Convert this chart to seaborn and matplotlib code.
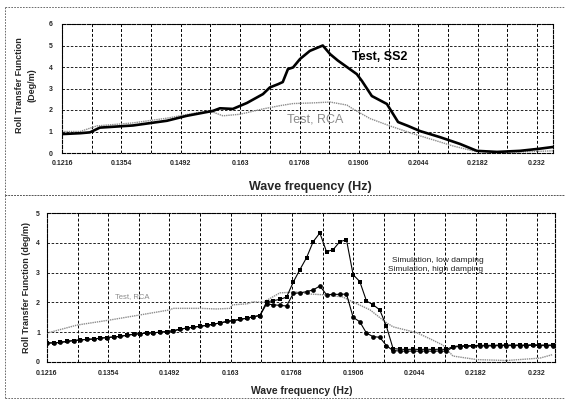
import matplotlib
matplotlib.use("Agg")
import matplotlib.pyplot as plt
from matplotlib.lines import Line2D
import seaborn as sns
import pandas as pd

# ---------------- data ----------------
tick_labels = ["0.1216", "0.1354", "0.1492", "0.163", "0.1768",
               "0.1906", "0.2044", "0.2182", "0.232"]
tick_values = [0.1216, 0.1354, 0.1492, 0.1630, 0.1768,
               0.1906, 0.2044, 0.2182, 0.2320]
grid_minor = [0.1285, 0.1423, 0.1561, 0.1699, 0.1837,
              0.1975, 0.2113, 0.2251]

# top panel: measured transfer functions
ss2_freq = [0.1216, 0.1258, 0.1281, 0.1304, 0.1381, 0.1460, 0.1506, 0.1567,
            0.1583, 0.1613, 0.1646, 0.1683, 0.1699, 0.1718, 0.1729, 0.1741,
            0.1753, 0.1769, 0.1792, 0.1822, 0.1839, 0.1857, 0.1878, 0.1901,
            0.1913, 0.1936, 0.1971, 0.1997, 0.2020, 0.2048, 0.2094, 0.2141,
            0.2180, 0.2227, 0.2280, 0.2326, 0.2357]
ss2_val = [0.88, 0.92, 0.96, 1.18, 1.28, 1.50, 1.73, 1.96,
           2.08, 2.05, 2.33, 2.74, 3.05, 3.20, 3.30, 3.90,
           3.98, 4.37, 4.75, 5.00, 4.60, 4.30, 4.00, 3.67,
           3.35, 2.65, 2.28, 1.44, 1.26, 1.02, 0.74, 0.42,
           0.10, 0.05, 0.10, 0.20, 0.28]

rca_freq = [0.1216, 0.1258, 0.1297, 0.1381, 0.1460, 0.1537, 0.1567, 0.1590,
            0.1629, 0.1683, 0.1722, 0.1753, 0.1799, 0.1839, 0.1878, 0.1892,
            0.1932, 0.1978, 0.2031, 0.2087, 0.2124, 0.2171, 0.2227, 0.2280,
            0.2357]
rca_val = [1.00, 1.00, 1.26, 1.40, 1.62, 1.90, 1.90, 1.73,
           1.80, 2.05, 2.20, 2.30, 2.33, 2.37, 2.23, 2.05,
           1.60, 1.26, 0.90, 0.56, 0.33, 0.10, 0.05, 0.05,
           0.10]

# bottom panel: simulations vs test
sim_freq = [0.1216, 0.1231, 0.1246, 0.1261, 0.1276, 0.1291, 0.1306, 0.1321,
            0.1336, 0.1351, 0.1366, 0.1381, 0.1396, 0.1411, 0.1426, 0.1441,
            0.1456, 0.1471, 0.1486, 0.1501, 0.1516, 0.1531, 0.1546, 0.1561,
            0.1576, 0.1591, 0.1606, 0.1621, 0.1636, 0.1651, 0.1666, 0.1681,
            0.1696, 0.1711, 0.1726, 0.1741, 0.1756, 0.1771, 0.1786, 0.1801,
            0.1816, 0.1831, 0.1846, 0.1861, 0.1876, 0.1891, 0.1906, 0.1921,
            0.1936, 0.1951, 0.1966, 0.1981, 0.1996, 0.2011, 0.2026, 0.2041,
            0.2056, 0.2071, 0.2086, 0.2101, 0.2116, 0.2131, 0.2146, 0.2161,
            0.2176, 0.2191, 0.2206, 0.2221, 0.2236, 0.2251, 0.2266, 0.2281,
            0.2296, 0.2311, 0.2326, 0.2341, 0.2356]
high_damp = [0.64, 0.64, 0.66, 0.69, 0.72, 0.74, 0.76, 0.77,
             0.80, 0.82, 0.84, 0.86, 0.90, 0.93, 0.95, 0.97,
             0.98, 1.00, 1.02, 1.05, 1.10, 1.14, 1.17, 1.20,
             1.23, 1.27, 1.31, 1.36, 1.39, 1.43, 1.47, 1.52,
             1.56, 1.95, 1.92, 1.90, 1.88, 2.30, 2.32, 2.36,
             2.42, 2.55, 2.26, 2.27, 2.27, 2.28, 1.50, 1.35,
             0.97, 0.85, 0.83, 0.55, 0.38, 0.37, 0.36, 0.37,
             0.36, 0.37, 0.36, 0.37, 0.36, 0.50, 0.52, 0.53,
             0.53, 0.54, 0.54, 0.54, 0.55, 0.55, 0.55, 0.55,
             0.55, 0.56, 0.55, 0.55, 0.55]
low_damp = [0.64, 0.64, 0.66, 0.69, 0.72, 0.74, 0.76, 0.77,
            0.80, 0.82, 0.84, 0.86, 0.90, 0.93, 0.95, 0.97,
            0.98, 1.00, 1.02, 1.05, 1.10, 1.14, 1.17, 1.20,
            1.23, 1.27, 1.31, 1.36, 1.39, 1.43, 1.47, 1.52,
            1.56, 2.02, 2.06, 2.10, 2.18, 2.68, 3.10, 3.50,
            4.04, 4.33, 3.70, 3.77, 4.04, 4.10, 2.93, 2.70,
            2.05, 1.92, 1.75, 1.20, 0.45, 0.43, 0.42, 0.43,
            0.42, 0.43, 0.42, 0.43, 0.42, 0.52, 0.54, 0.55,
            0.55, 0.56, 0.56, 0.56, 0.57, 0.57, 0.57, 0.57,
            0.57, 0.58, 0.57, 0.57, 0.57]

test_freq = [0.1216, 0.1284, 0.1358, 0.1426, 0.1493, 0.1500, 0.1561, 0.1599,
             0.1628, 0.1635, 0.1667, 0.1680, 0.1703, 0.1741, 0.1779, 0.1809,
             0.1847, 0.1883, 0.1905, 0.1944, 0.1978, 0.1996, 0.2050, 0.2079,
             0.2108, 0.2131, 0.2185, 0.2252, 0.2327, 0.2356]
test_val = [0.97, 1.24, 1.41, 1.58, 1.75, 1.80, 1.80, 1.78,
            1.80, 1.92, 1.95, 2.02, 2.00, 2.32, 2.35, 2.28,
            2.25, 2.18, 2.02, 1.75, 1.35, 1.18, 0.98, 0.78,
            0.57, 0.20, 0.08, 0.05, 0.13, 0.25]

# ---------------- figure ----------------
sns.set_style("white")
plt.rcParams["font.family"] = ["Liberation Sans", "DejaVu Sans"]

W, H = 566, 405
fig = plt.figure(figsize=(W / 100, H / 100), dpi=100)


def px_axes(l, t, r, b):
    return [l / W, 1 - b / H, (r - l) / W, (b - t) / H]


ax1 = fig.add_axes(px_axes(62, 24, 553, 153))
ax2 = fig.add_axes(px_axes(47, 213, 555, 362))

gray = "#8c8c8c"

df_ss2 = pd.DataFrame({"f": ss2_freq, "v": ss2_val})
df_rca = pd.DataFrame({"f": rca_freq, "v": rca_val})
sns.lineplot(data=df_rca, x="f", y="v", ax=ax1, color=gray, lw=1.0,
             linestyle=(0, (1, 0.6)), estimator=None)
sns.lineplot(data=df_ss2, x="f", y="v", ax=ax1, color="black", lw=1.9,
             estimator=None)

df_sim = pd.DataFrame({"f": sim_freq, "low": low_damp, "high": high_damp})
df_test = pd.DataFrame({"f": test_freq, "v": test_val})
sns.lineplot(data=df_test, x="f", y="v", ax=ax2, color=gray, lw=1.0,
             linestyle=(0, (1, 0.6)), estimator=None)
sns.lineplot(data=df_sim, x="f", y="low", ax=ax2, color="black", lw=0.8,
             marker="s", markersize=3.2, markeredgewidth=0, estimator=None)
sns.lineplot(data=df_sim, x="f", y="high", ax=ax2, color="black", lw=0.8,
             marker="o", markersize=3.4, markeredgewidth=0, estimator=None)

for ax, ymax, xmax in [(ax1, 6, 0.2357), (ax2, 5, 0.2361)]:
    ax.set_xlim(0.1216, xmax)
    ax.set_ylim(0, ymax)
    ax.set_xticks(tick_values)
    ax.set_xticklabels(tick_labels)
    ax.set_xticks(grid_minor, minor=True)
    ax.set_yticks(range(0, ymax + 1))
    ax.tick_params(axis="both", which="both", length=0, labelsize=5)
    for lab in ax.get_xticklabels() + ax.get_yticklabels():
        lab.set_fontweight("bold")
    ax.grid(True, which="both", axis="x", color="black", lw=0.7,
            linestyle=(0, (3, 2)))
    ax.grid(True, which="major", axis="y", color="black", lw=0.6,
            linestyle=(0, (3, 2)))
    for sp in ax.spines.values():
        sp.set_color("black")
        sp.set_linewidth(0.8)
        sp.set_linestyle((0, (3, 1.5)))
    ax.set_xlabel("")
    ax.set_ylabel("")

ax1.tick_params(axis="y", pad=7)
ax1.tick_params(axis="x", pad=5)
ax2.tick_params(axis="y", pad=5)
ax2.tick_params(axis="x", pad=6)

ax1.set_xlabel("Wave frequency (Hz)", fontsize=9, fontweight="bold")
ax1.xaxis.set_label_coords(0.505, -0.215)
ax1.set_ylabel("Roll Transfer Function\n(Deg/m)", fontsize=6.5,
               fontweight="bold", linespacing=1.5)
ax1.yaxis.set_label_coords(-0.052, 0.53)

ax2.set_xlabel("Wave frequency (Hz)", fontsize=7.5, fontweight="bold")
ax2.xaxis.set_label_coords(0.502, -0.16)
ax2.set_ylabel("Roll Transfer Function (deg/m)", fontsize=6.5,
               fontweight="bold")
ax2.yaxis.set_label_coords(-0.031, 0.5)

# in-plot annotations
ax1.text(0.1890, 4.47, "Test, SS2", fontsize=9, fontweight="bold",
         color="black", va="center", ha="left")
ax1.text(0.1739, 1.58, "Test, RCA", fontsize=9, color=gray,
         va="center", ha="left")
ax2.text(0.1369, 2.18, "Test, RCA", fontsize=5.5, color=gray,
         va="center", ha="left")
ax2.text(0.1993, 3.42, "Simulation, low damping", fontsize=6,
         color="#222222", va="center", ha="left")
ax2.text(0.1984, 3.09, "Simulation, high damping", fontsize=6,
         color="#222222", va="center", ha="left")

# dashed outer frames of the two panels
frame_kw = dict(color="#555555", lw=0.6, linestyle=(0, (2, 1.5)))


def fx(x):
    return x / W


def fy(y):
    return 1 - y / H


for (l, t, r, b) in [(5, 7, 565, 195), (5, 195, 565, 398)]:
    fig.add_artist(Line2D([fx(l), fx(r)], [fy(t), fy(t)], **frame_kw))
    fig.add_artist(Line2D([fx(l), fx(r)], [fy(b), fy(b)], **frame_kw))
    fig.add_artist(Line2D([fx(l), fx(l)], [fy(t), fy(b)], **frame_kw))

fig.savefig("out.png", dpi=100)
